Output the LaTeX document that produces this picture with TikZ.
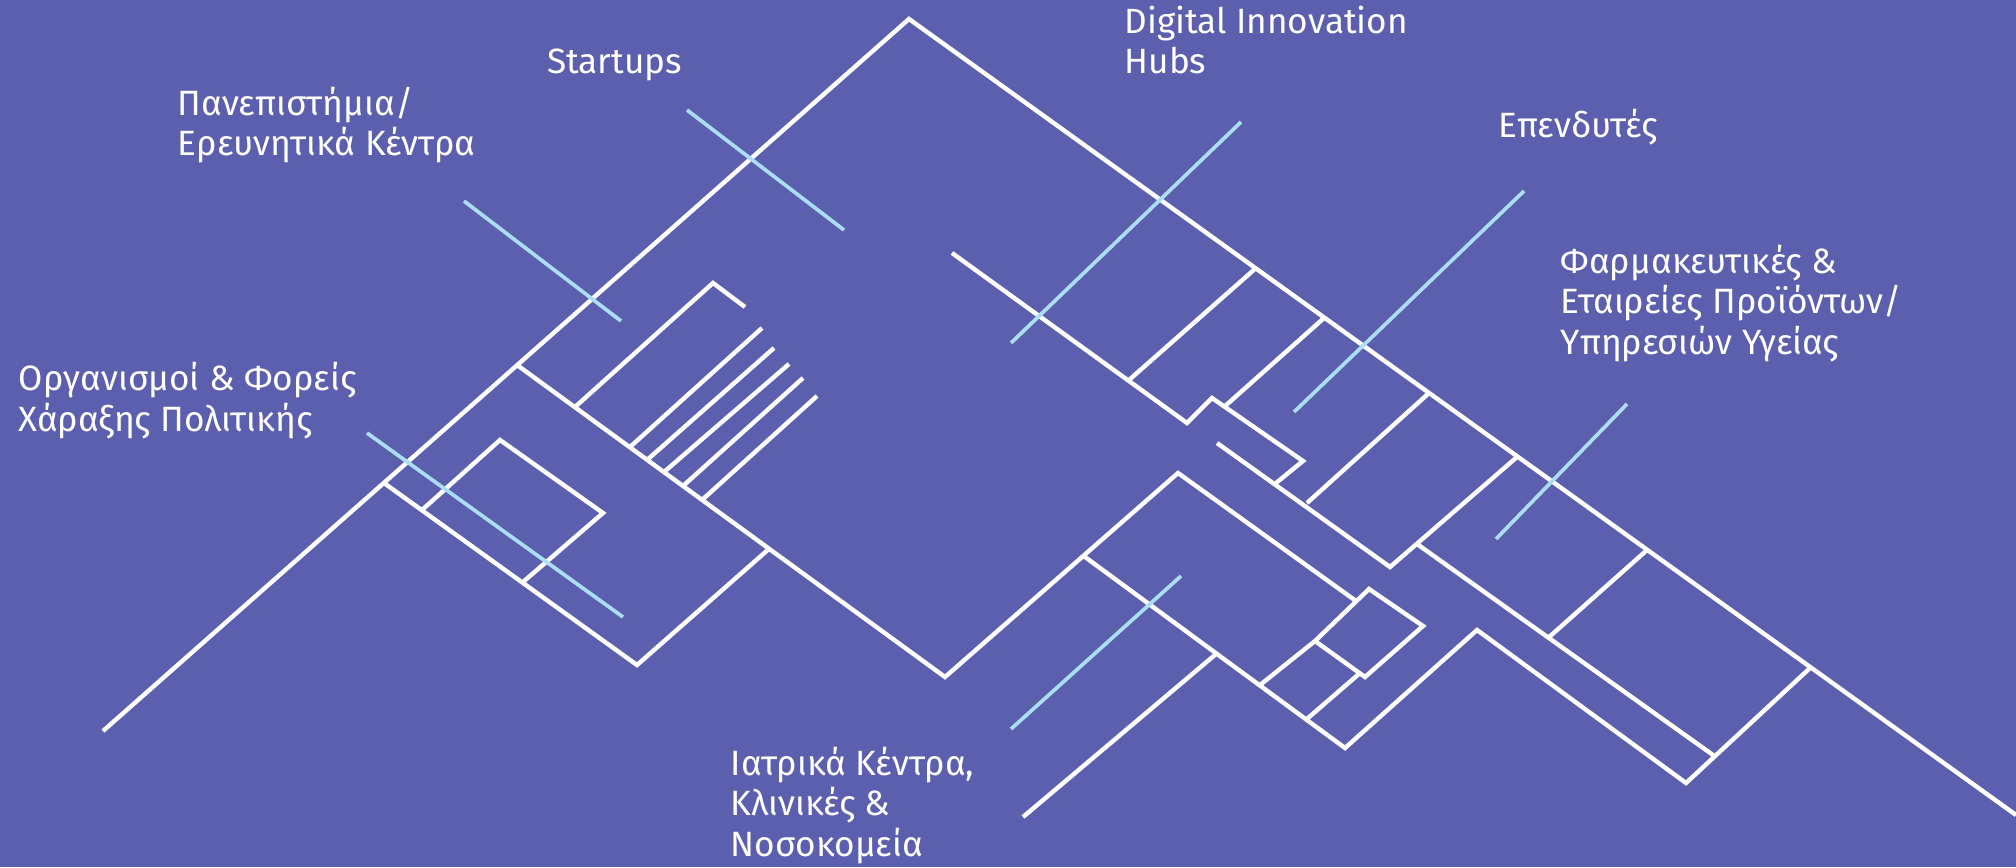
\documentclass[tikz,border=0pt]{standalone}
\usepackage{fontspec}
\setmainfont{Fira Sans}
\definecolor{bgpurple}{RGB}{92,94,174}
\definecolor{linkblue}{RGB}{170,222,245}

\begin{document}
\begin{tikzpicture}[x=0.01cm,y=-0.01cm,
  wall/.style={draw=white,line width=1.25pt},
  link/.style={draw=linkblue,line width=1.05pt},
  label/.style={text=white,font=\fontsize{10}{11.5}\selectfont,anchor=base west,align=left,inner sep=0pt}]

  \fill[bgpurple] (0,0) rectangle (2016,867);
  \useasboundingbox (0,0) rectangle (2016,867);

  \coordinate (peak) at (909,19);
  \coordinate (o1) at (103,731);
  \coordinate (o2) at (2016,815);
  \coordinate (j1) at (517,365);
  \coordinate (j2) at (384,483);
  \coordinate (c2) at (770,548);
  \coordinate (lv) at (637,665);
  \coordinate (v1) at (945,677);
  \coordinate (m1) at (1085,557);
  \coordinate (mp) at (1178,473);
  \coordinate (lv2) at (1345,748);
  \coordinate (rp) at (1477,630);
  \coordinate (rv) at (1686,783);
  \coordinate (hv) at (1390,567);

  \coordinate (d1) at (1369,589);
  \coordinate (d2) at (1423,626);
  \coordinate (d3) at (1365,677);
  \coordinate (d4) at (1315,641);

  \path[wall]
   (o1) -- (peak) -- (o2)
   (j1) -- (v1) -- (mp) -- (1356,601)
   (j2) -- (lv) -- (c2)
   (422,510) -- (500,440) -- (603,513) -- (523,582)
   (575,407) -- (713,283) -- (745,307)
   (630,447) -- (762,328)
   (647,460) -- (774,348)
   (664,472) -- (789,364)
   (683,486) -- (803,378)
   (702,500) -- (817,396)

   (m1) -- (lv2) -- (rp) -- (rv) -- (1810,668)
   (d1) -- (d2) -- (d3) -- (d4) -- cycle
   (1260,685) -- (d4)
   (1308,718) -- (1360,673)
   (1023,817) -- (1216,654)

   (952,253) -- (1187,423) -- (1212,398) -- (1303,461) -- (1276,483)
   (1217,443) -- (hv) -- (1517,457)
   (1417,544) -- (1713,755)
   (1129,380) -- (1256,268)
   (1224,407) -- (1324,318)
   (1307,503) -- (1429,393)
   (1548,638) -- (1647,550);

  \path[link]
   (687,110) -- (844,230)
   (464,201) -- (621,321)
   (367,433) -- (623,617)
   (1241,122) -- (1011,343)
   (1524,191) -- (1294,412)
   (1627,404) -- (1496,539)
   (1181,576) -- (1011,729);

  \node[label] (startups) at (546.5,74) {Startups};
  \node[label] (unis) at (177,156) {Πανεπιστήμια/\\Ερευνητικά Κέντρα};
  \node[label] (dih) at (1124,74) {Digital Innovation\\Hubs};
  \node[label] (investors) at (1498,137) {Επενδυτές};
  \node[label] (pharma) at (1560,354) {Φαρμακευτικές \&\\Εταιρείες Προϊόντων/\\Υπηρεσιών Υγείας};
  \node[label] (policy) at (18,431) {Οργανισμοί \& Φορείς\\Χάραξης Πολιτικής};
  \node[label] (medical) at (730,856) {Ιατρικά Κέντρα,\\Κλινικές \&\\Νοσοκομεία};
\end{tikzpicture}
\end{document}
